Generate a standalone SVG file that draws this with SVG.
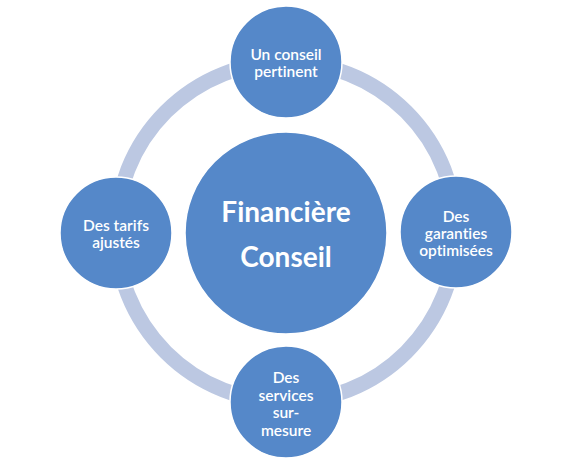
<svg xmlns="http://www.w3.org/2000/svg" width="571" height="476" viewBox="0 0 571 476">
<style>
.node{fill:#5588C9;stroke:#FFFFFF;stroke-width:1.5}
.lbl{font-family:Lato,"Liberation Sans",sans-serif;font-size:15.5px;font-weight:600;fill:#FFFFFF;text-anchor:middle;font-variant-ligatures:none}
.big{font-family:Lato,"Liberation Sans",sans-serif;font-size:28px;font-weight:bold;fill:#FFFFFF;text-anchor:middle;font-variant-ligatures:none}
</style>
<rect width="571" height="476" fill="#FFFFFF"/>
<g id="connectors">
<circle cx="286" cy="232" r="170" fill="none" stroke="#BCC8E2" stroke-width="15"/>
</g>
<g id="center">
<circle class="node" cx="286" cy="233" r="101"/>
<text class="big" x="286" y="222">Financière</text>
<text class="big" x="286" y="267">Conseil</text>
</g>
<g id="top">
<circle class="node" cx="286" cy="62" r="56"/>
<text class="lbl" x="286" y="60">Un conseil</text>
<text class="lbl" x="286" y="77">pertinent</text>
</g>
<g id="left">
<circle class="node" cx="116" cy="233" r="56"/>
<text class="lbl" x="116" y="231">Des tarifs</text>
<text class="lbl" x="116" y="248">ajustés</text>
</g>
<g id="right">
<circle class="node" cx="456" cy="232" r="56"/>
<text class="lbl" x="456" y="222">Des</text>
<text class="lbl" x="456" y="239">garanties</text>
<text class="lbl" x="456" y="256">optimisées</text>
</g>
<g id="bottom">
<circle class="node" cx="286" cy="402" r="56"/>
<text class="lbl" x="286" y="383">Des</text>
<text class="lbl" x="286" y="401">services</text>
<text class="lbl" x="286" y="418">sur-</text>
<text class="lbl" x="286" y="436">mesure</text>
</g>
</svg>
